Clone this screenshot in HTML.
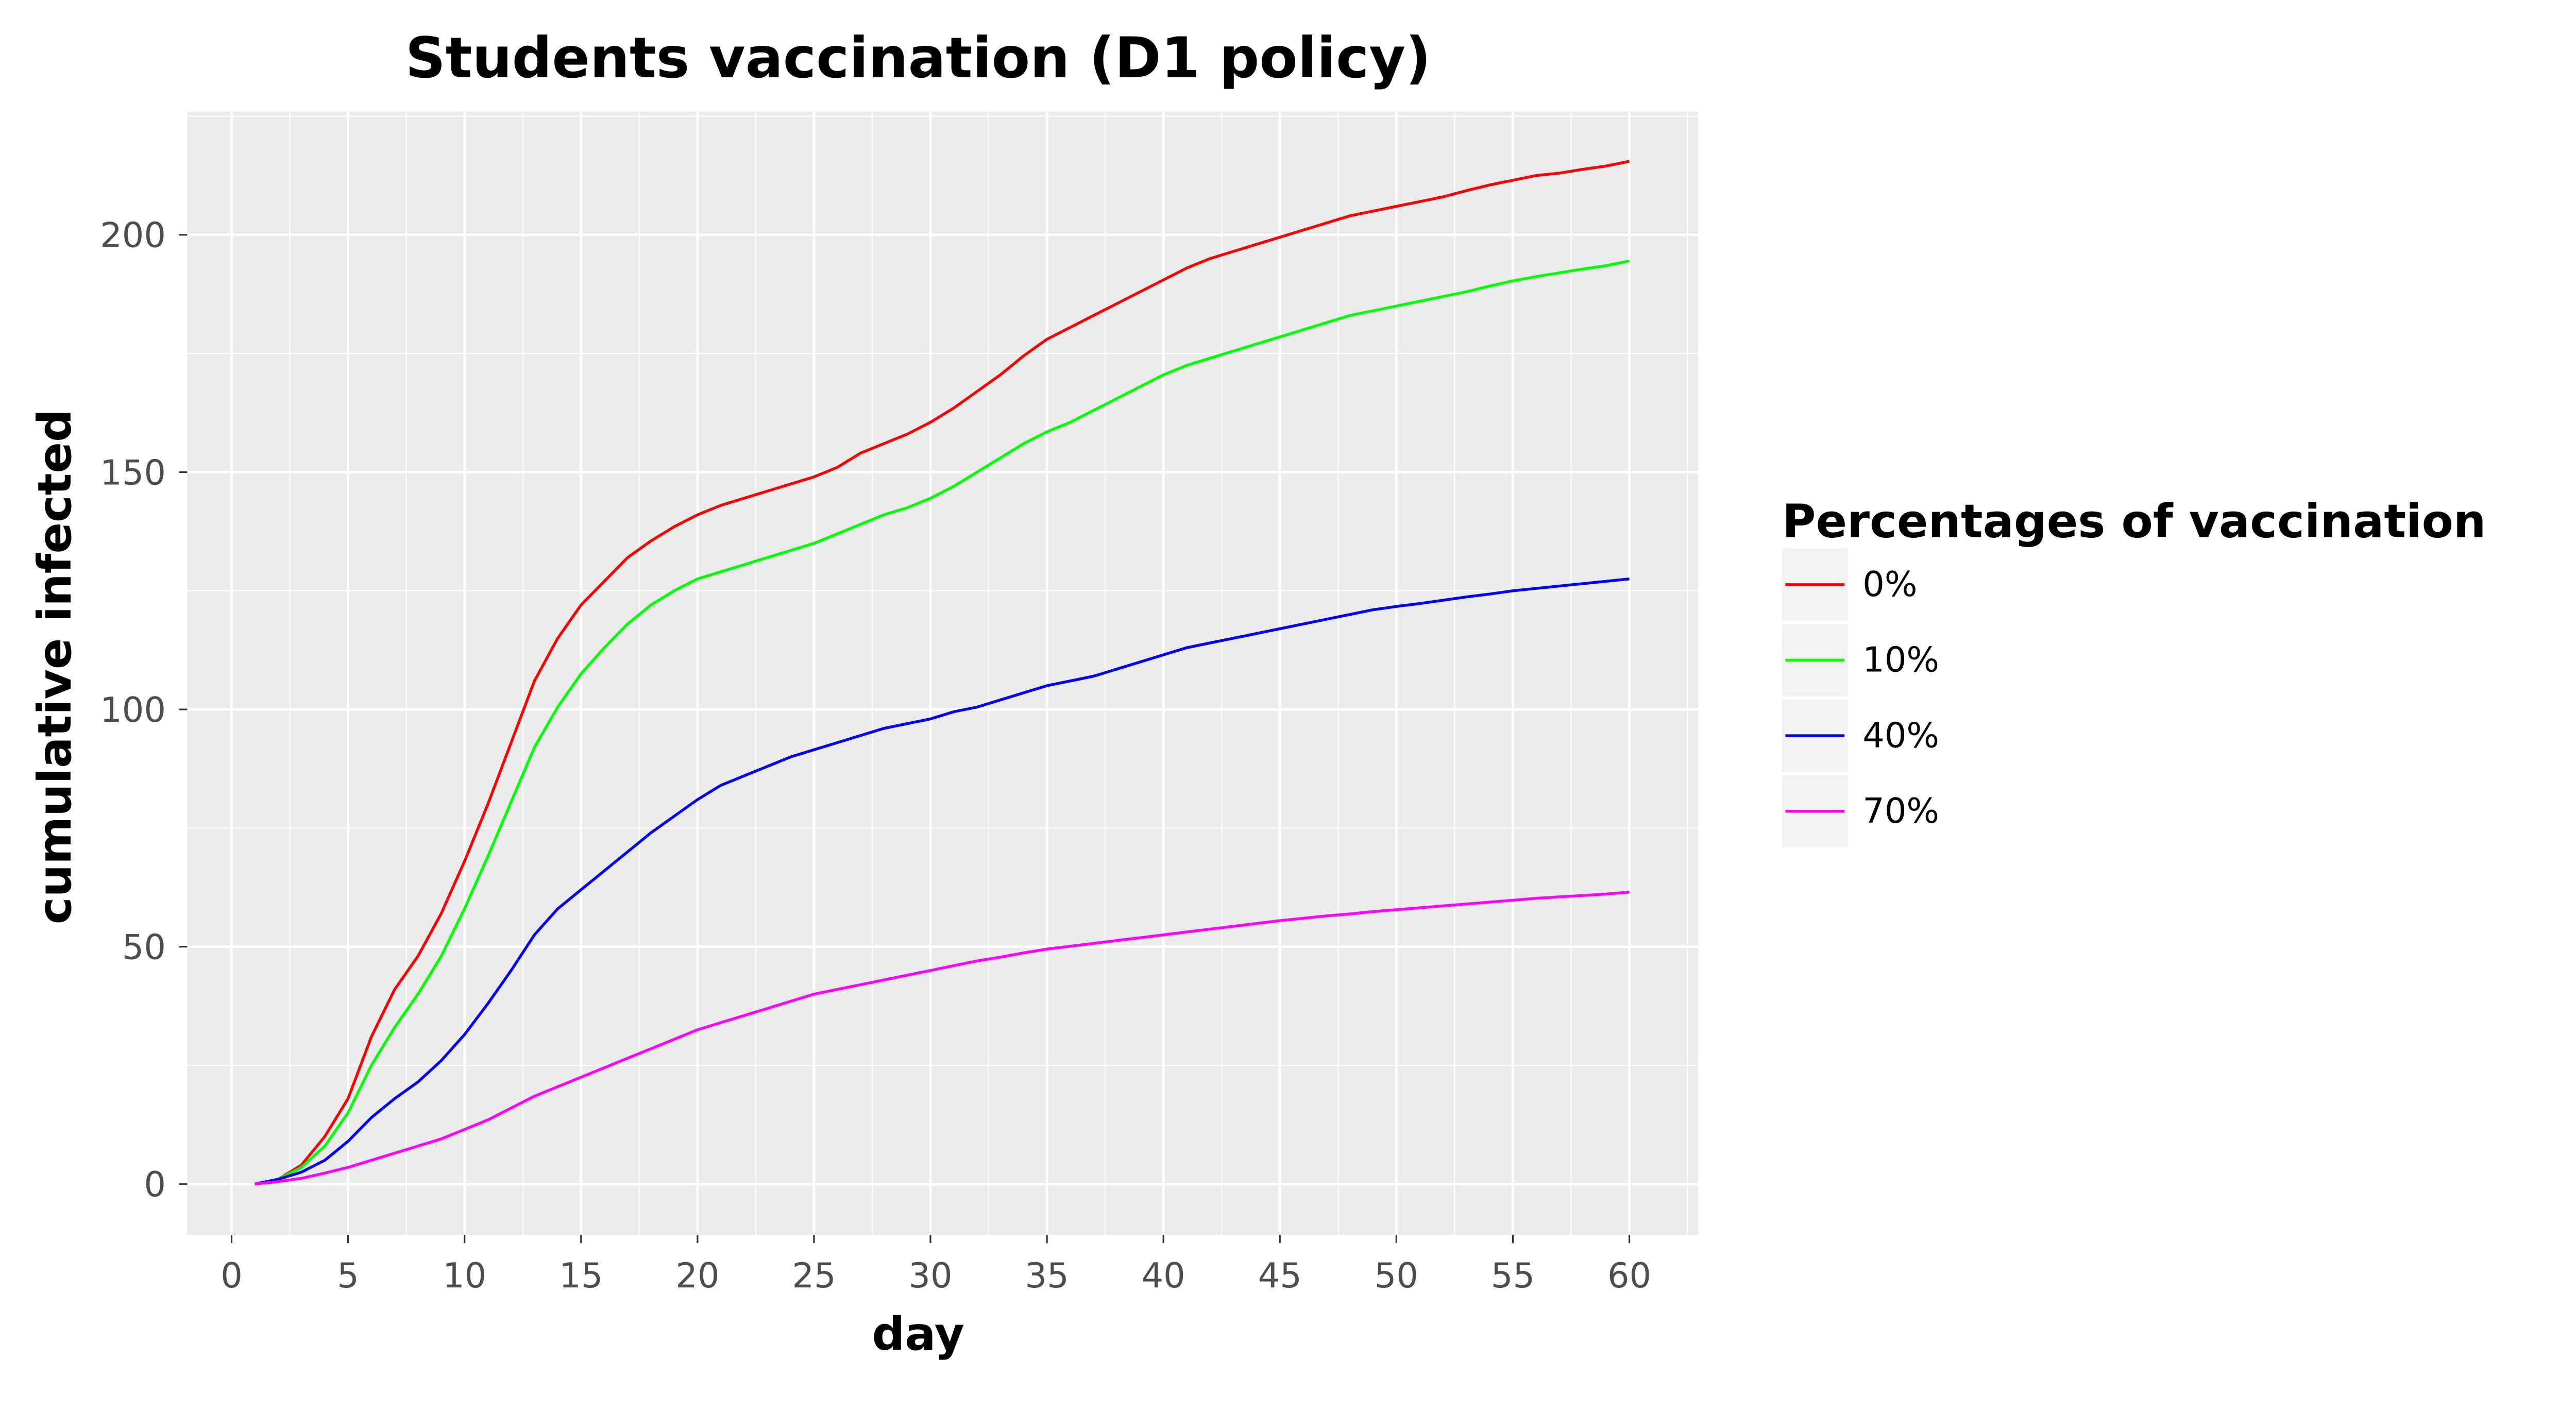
<!DOCTYPE html>
<html><head><meta charset="utf-8"><style>html,body{margin:0;padding:0;background:#fff}svg{display:block}</style></head>
<body>
<svg id="chart" width="5069" height="2735" viewBox="0 0 1590 858" preserveAspectRatio="none" xmlns="http://www.w3.org/2000/svg" font-family="'DejaVu Sans','Liberation Sans',sans-serif">
<rect width="1590" height="858" fill="#fff"/>
<rect x="114" y="68" width="920" height="684" fill="#ebebeb"/>
<g id="grid"></g>
<g id="series"></g>
<g id="axes"></g>
<text x="559" y="47" text-anchor="middle" font-size="34" font-weight="bold">Students vaccination (D1 policy)</text>
<text x="559" y="822" text-anchor="middle" font-size="28" font-weight="bold">day</text>
<text transform="translate(43,406) rotate(-90)" text-anchor="middle" font-size="28" font-weight="bold">cumulative infected</text>
<text x="1085" y="327" font-size="28" font-weight="bold">Percentages of vaccination</text>
<g id="legend"></g>
</svg>
<script>
const days = Array.from({length:60},(_,i)=>i+1);
const xTicks = [0,5,10,15,20,25,30,35,40,45,50,55,60];
const yTicks = [0,50,100,150,200];
const seriesNames = ["0%","10%","40%","70%"];
const seriesColors = ["#ff0000","#00ff00","#0000ff","#ff00ff"];
const v0 = [0,1,4,10,18,31,41,48,57,68,80,93,106,115,122,127,132,135.5,138.5,141,143,144.5,146,147.5,149,151,154,156,158,160.5,163.5,167,170.5,174.5,178,180.5,183,185.5,188,190.5,193,195,196.5,198,199.5,201,202.5,204,205,206,207,208,209.3,210.5,211.5,212.5,213,213.8,214.5,215.5];
const v10 = [0,1,3.5,8,15,25,33,40,48,58,69,80.5,92,100.5,107.5,113,118,122,125,127.5,129,130.5,132,133.5,135,137,139,141,142.5,144.5,147,150,153,156,158.5,160.5,163,165.5,168,170.5,172.5,174,175.5,177,178.5,180,181.5,183,184,185,186,187,188,189.2,190.3,191.2,192,192.8,193.5,194.5];
const v40 = [0,1,2.5,5,9,14,18,21.5,26,31.5,38,45,52.5,58,62,66,70,74,77.5,81,84,86,88,90,91.5,93,94.5,96,97,98,99.5,100.5,102,103.5,105,106,107,108.5,110,111.5,113,114,115,116,117,118,119,120,121,121.7,122.3,123,123.7,124.3,125,125.5,126,126.5,127,127.5];
const v70 = [0,0.5,1.2,2.3,3.5,5,6.5,8,9.5,11.5,13.5,16,18.5,20.5,22.5,24.5,26.5,28.5,30.5,32.5,34,35.5,37,38.5,40,41,42,43,44,45,46,47,47.8,48.7,49.5,50.1,50.7,51.3,51.9,52.5,53.1,53.7,54.3,54.9,55.5,56,56.5,56.9,57.4,57.8,58.2,58.6,59,59.4,59.8,60.2,60.5,60.8,61.1,61.5];
const allSeries = [v0,v10,v40,v70];
const NS="http://www.w3.org/2000/svg";
const px0=114,px1=1034,py0=68,py1=752;
const xs=d=>141+d*(992-141)/60;
const ys=v=>721-v*(721-143)/200;
function mk(tag,attrs,parent){const e=document.createElementNS(NS,tag);for(const k in attrs)e.setAttribute(k,attrs[k]);parent.appendChild(e);return e;}
const grid=document.getElementById('grid'),axes=document.getElementById('axes'),ser=document.getElementById('series'),leg=document.getElementById('legend');
for(let d=-2.5;d<=62.5;d+=5){const x=xs(d);if(x<px0||x>px1)continue;const l=mk('line',{x1:x,x2:x,y1:py0,y2:py1,stroke:'#fff','stroke-width':0.7},grid);

}
for(let v=-25;v<=250;v+=50){const y=ys(v);if(y<py0||y>py1)continue;const l=mk('line',{x1:px0,x2:px1,y1:y,y2:y,stroke:'#fff','stroke-width':0.7},grid);

}
xTicks.forEach(d=>{const x=xs(d);const l=mk('line',{x1:x,x2:x,y1:py0,y2:py1,stroke:'#fff','stroke-width':1.5},grid);


const t=mk('line',{x1:x,x2:x,y1:py1,y2:py1+5,stroke:'#333','stroke-width':1},axes);


const tx=mk('text',{x:x,y:py1+32,'text-anchor':'middle','font-size':21,fill:'#4d4d4d'},axes);tx.textContent=d;

});
yTicks.forEach(v=>{const y=ys(v);const l=mk('line',{x1:px0,x2:px1,y1:y,y2:y,stroke:'#fff','stroke-width':1.5},grid);


const t=mk('line',{x1:px0-5,x2:px0,y1:y,y2:y,stroke:'#333','stroke-width':1},axes);


const tx=mk('text',{x:px0-13,y:y+7.5,'text-anchor':'end','font-size':21,fill:'#4d4d4d'},axes);tx.textContent=v;

});
allSeries.forEach((vals,i)=>{const pts=vals.map((v,j)=>xs(days[j]).toFixed(2)+','+ys(v).toFixed(2)).join(' ');
const p=mk('polyline',{points:pts,fill:'none',stroke:seriesColors[i],'stroke-width':1.7},ser);


const y0=334+i*46;
const bx=mk('rect',{x:1085,y:y0,width:40,height:44,fill:'#f2f2f2'},leg);


const ln=mk('line',{x1:1087,x2:1123,y1:y0+22,y2:y0+22,stroke:seriesColors[i],'stroke-width':1.7},leg);


const tx=mk('text',{x:1134,y:y0+29,'font-size':21},leg);tx.textContent=seriesNames[i];

});
</script>
</body></html>
